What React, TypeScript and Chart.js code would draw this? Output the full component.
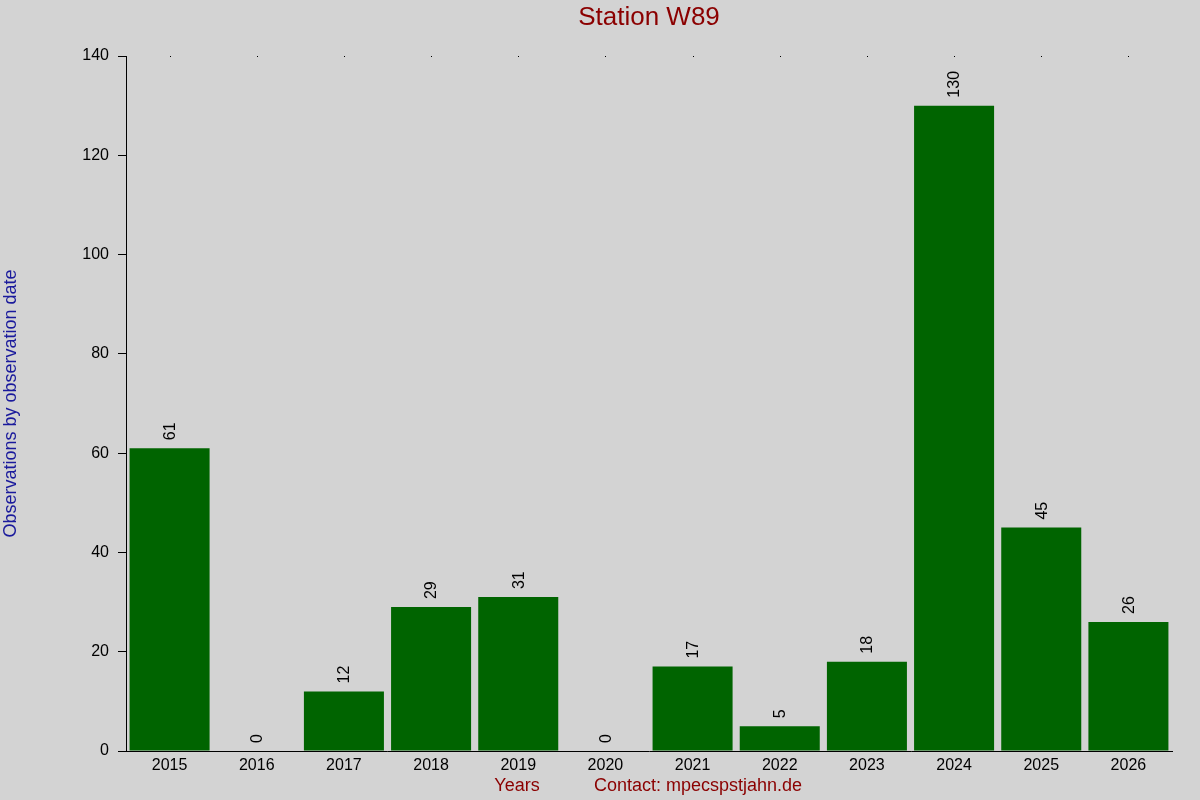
import React, { useEffect, useRef } from "react";
import { Chart, registerables } from "chart.js";

Chart.register(...registerables);

const categories = ["2015", "2016", "2017", "2018", "2019", "2020", "2021", "2022", "2023", "2024", "2025", "2026"];
const observations = [61, 0, 12, 29, 31, 0, 17, 5, 18, 130, 45, 26];
const yTicks = [0, 20, 40, 60, 80, 100, 120, 140];

const titleText = "Station W89";
const yTitleText = "Observations by observation date";
const xTitleText = "Years";
const contactText = "Contact: mpecspstjahn.de";

const FONT = "Arial, 'Liberation Sans', sans-serif";

const decorPlugin = {
  id: "decor",
  beforeDraw(chart: any) {
    const ctx = chart.ctx;
    ctx.save();
    ctx.fillStyle = "#d3d3d3";
    ctx.fillRect(0, 0, chart.width, chart.height);
    ctx.restore();
  },
  afterDraw(chart: any) {
    const ctx = chart.ctx;
    const area = chart.chartArea;
    const xs = chart.scales.x;
    const ys = chart.scales.y;
    ctx.save();
    // title
    ctx.fillStyle = "#8b0000";
    ctx.font = `26px ${FONT}`;
    ctx.textAlign = "center";
    ctx.textBaseline = "middle";
    ctx.fillText(titleText, (area.left + area.right) / 2, 18);
    // x titles
    ctx.font = `18px ${FONT}`;
    ctx.fillText(xTitleText, 517, 786);
    ctx.fillText(contactText, 698, 786);
    // y title
    ctx.save();
    ctx.translate(11, (area.top + area.bottom) / 2);
    ctx.rotate(-Math.PI / 2);
    ctx.fillStyle = "#1a1a9c";
    ctx.fillText(yTitleText, 0, 0);
    ctx.restore();
    // top dots
    ctx.fillStyle = "#000";
    categories.forEach((_, i) => {
      const px = xs.getPixelForValue(i);
      ctx.fillRect(Math.round(px), area.top, 1, 1);
    });
    // value labels
    ctx.font = `16px ${FONT}`;
    ctx.fillStyle = "#000";
    ctx.textAlign = "left";
    ctx.textBaseline = "middle";
    const meta = chart.getDatasetMeta(0);
    meta.data.forEach((bar: any, i: number) => {
      const v = observations[i];
      const x = bar.x + 1;
      const y = ys.getPixelForValue(v) - 8;
      ctx.save();
      ctx.translate(x, y);
      ctx.rotate(-Math.PI / 2);
      ctx.fillText(String(v), 0, 0);
      ctx.restore();
    });
    ctx.restore();
  },
};

export default function App() {
  const ref = useRef<HTMLCanvasElement | null>(null);
  useEffect(() => {
    if (!ref.current) return;
    const chart = new Chart(ref.current, {
      type: "bar",
      data: {
        labels: categories,
        datasets: [
          {
            data: observations,
            backgroundColor: "#006400",
            borderWidth: 0,
            barPercentage: 0.918,
            categoryPercentage: 1,
          },
        ],
      },
      options: {
        animation: false,
        responsive: false,
        devicePixelRatio: 1,
        layout: { padding: { left: 0, right: 28, top: 56, bottom: 0 } },
        plugins: { legend: { display: false }, title: { display: false }, tooltip: { enabled: false } },
        scales: {
          x: {
            grid: { display: false, drawTicks: false },
            border: { display: true, color: "#000", width: 1 },
            ticks: { color: "#000", font: { family: FONT, size: 16 }, padding: 5, maxRotation: 0, autoSkip: false },
            afterFit(scale: any) {
              scale.height = 49;
            },
          },
          y: {
            min: 0,
            max: 140,
            afterBuildTicks(scale: any) {
              scale.ticks = yTicks.map((v) => ({ value: v }));
            },
            grid: { drawOnChartArea: false, drawTicks: true, tickLength: 8, color: "#000" },
            border: { display: true, color: "#000", width: 1 },
            ticks: { color: "#000", font: { family: FONT, size: 16 }, padding: 9 },
            afterFit(scale: any) {
              scale.width = 126;
            },
          },
        },
      },
      plugins: [decorPlugin],
    });
    return () => chart.destroy();
  }, []);
  return (
    <div style={{ position: "fixed", left: 0, top: 0, width: 1200, height: 800, background: "#d3d3d3" }}>
      <canvas ref={ref} width={1200} height={800} style={{ width: 1200, height: 800, display: "block" }} />
    </div>
  );
}
